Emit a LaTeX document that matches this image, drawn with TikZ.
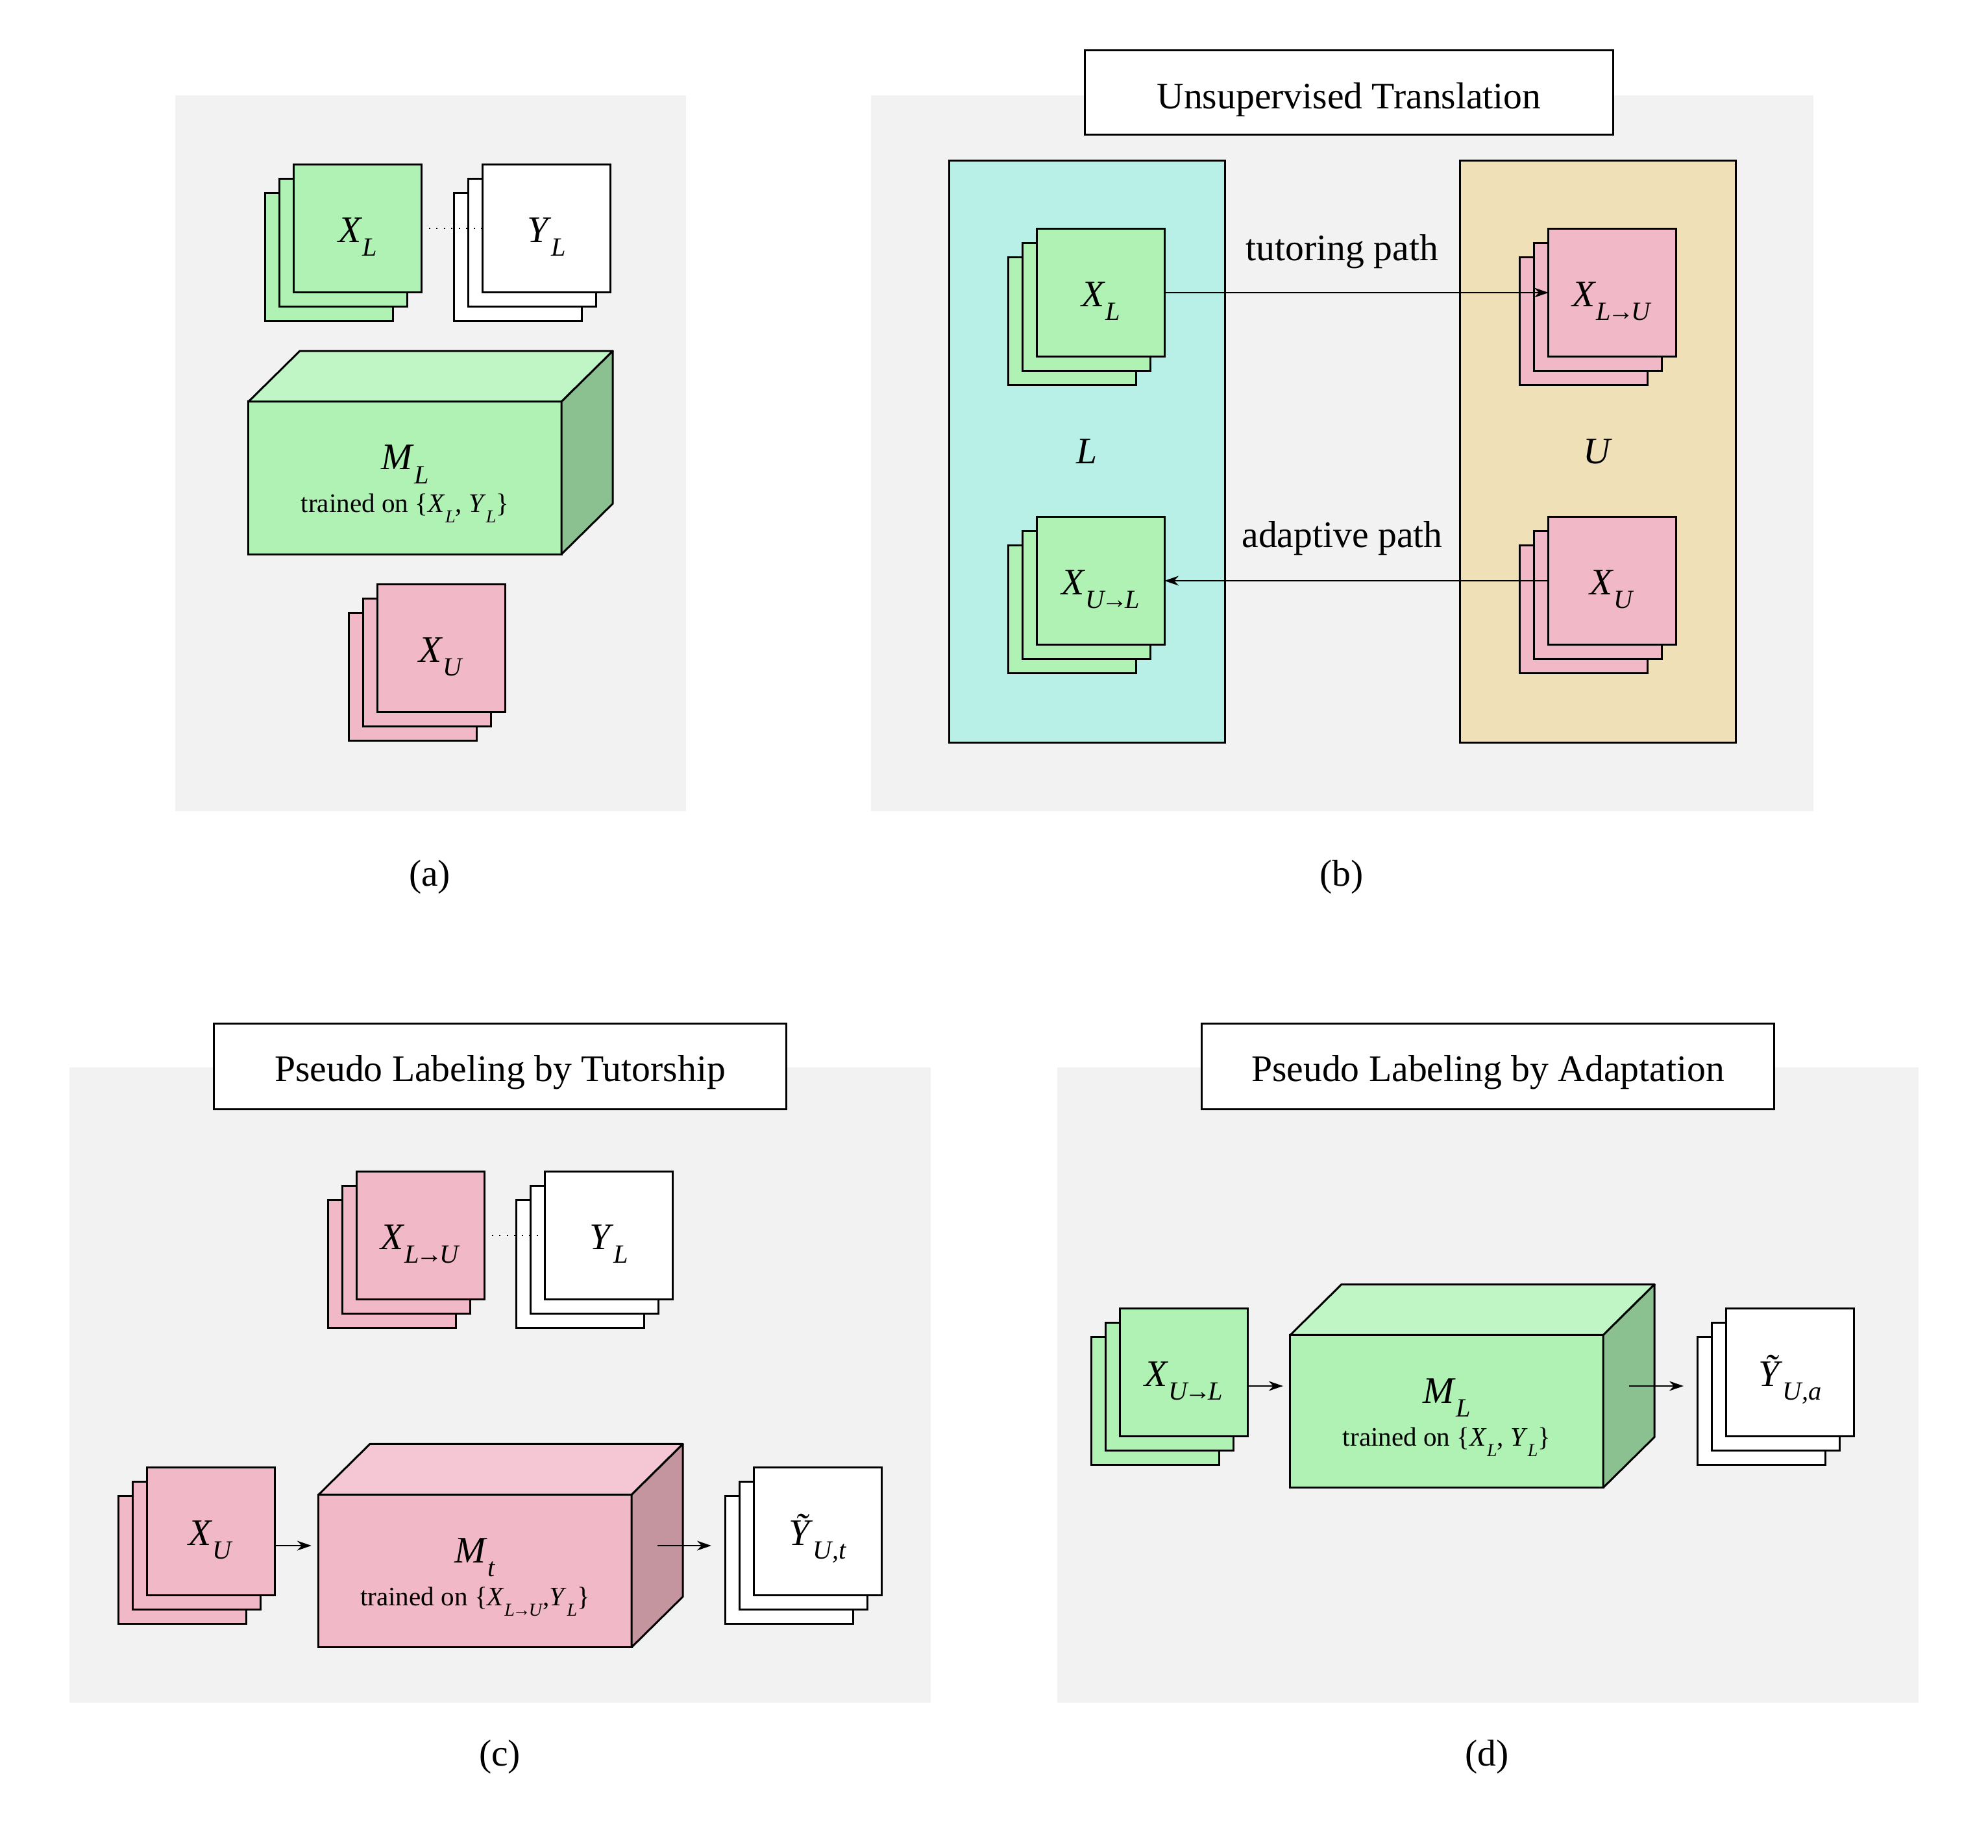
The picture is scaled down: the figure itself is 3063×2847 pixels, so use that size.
\documentclass[tikz,border=0pt]{standalone}
\usepackage{fontspec}
\setmainfont{Liberation Serif}
\usetikzlibrary{arrows.meta,calc}
\definecolor{bggray}{HTML}{F2F2F2}
\definecolor{cgreen}{HTML}{AFF2B4}
\definecolor{cgreentop}{HTML}{C0F5C5}
\definecolor{cgreenside}{HTML}{8BC190}
\definecolor{cpink}{HTML}{F1B8C8}
\definecolor{cpinktop}{HTML}{F5C6D3}
\definecolor{cpinkside}{HTML}{C4949F}
\definecolor{ccyan}{HTML}{B8F0E8}
\definecolor{ctan}{HTML}{F0E0B8}
\newcommand\bigsub[2]{\textit{#1}\raisebox{-0.38em}{\fontsize{11.5}{13}\selectfont\textit{#2}}}
\newcommand\smallsub[2]{\textit{#1}\raisebox{-0.4em}{\fontsize{8}{9}\selectfont\textit{#2}}}
\newcommand\toarr{\kern-0.12em\textup{→}\kern-0.1em}
\tikzset{
 card/.style={draw=black, line width=0.03cm, minimum width=1.96cm, minimum height=1.96cm, inner sep=0pt, outer sep=0pt, text height=0.5cm, text depth=0.08cm, font=\fontsize{16.4}{19}\selectfont},
 cubefront/.style={draw, line width=0.03cm, minimum width=4.82cm, minimum height=2.35cm, inner sep=0pt, outer sep=0pt},
 face/.style={draw, line width=0.03cm, line join=round},
 titlebox/.style={draw, line width=0.03cm, fill=white, inner sep=0pt, outer sep=0pt, text height=0.6cm, font=\fontsize{16.4}{19}\selectfont},
 setbox/.style={draw, line width=0.03cm, minimum width=4.24cm, minimum height=8.96cm, inner sep=0pt, outer sep=0pt, font=\fontsize{16.4}{19}\selectfont},
 arr/.style={-{Stealth[length=0.22cm,width=0.15cm,inset=0.07cm]}, line width=0.02cm},
 dotline/.style={line width=0.02cm, dash pattern=on 0.02cm off 0.095cm},
 bigtext/.style={font=\fontsize{16.4}{19}\selectfont, inner sep=0pt},
 smalltext/.style={font=\fontsize{11.7}{14}\selectfont, inner sep=0pt},
}
\newcommand\cardstack[5]{%
 \node[card,fill=#4] (#1b) at ({#2-44},{#3+44}) {};
 \node[card,fill=#4] (#1m) at ({#2-22},{#3+22}) {};
 \node[card,fill=#4] (#1) at (#2,#3) {#5};}
\newcommand\modelbox[6]{%
 \node[cubefront,fill=#4] (#1) at (#2,#3) {};
 \filldraw[face,fill=#5] (#1.north west) -- ($(#1.north west)+(79,-78)$) -- ($(#1.north east)+(79,-78)$) -- (#1.north east) -- cycle;
 \filldraw[face,fill=#6] (#1.north east) -- ($(#1.north east)+(79,-78)$) -- ($(#1.south east)+(79,-78)$) -- (#1.south east) -- cycle;
 \coordinate (#1mid) at ($(#1.center)+(0,-39)$);
 \coordinate (#1side) at ($(#1.east)+(39.5,-39)$);}
\begin{document}
\begin{tikzpicture}[x=0.01cm,y=-0.01cm]
\fill[white] (0,0) rectangle (3063,2847);
\useasboundingbox (0,0) rectangle (3063,2847);
% backgrounds
\fill[bggray] (270,147) rectangle (1057,1250);
\fill[bggray] (1342,147) rectangle (2794,1250);
\fill[bggray] (107,1645) rectangle (1434,2624);
\fill[bggray] (1629,1645) rectangle (2956,2624);
% ---------- (a)
\cardstack{axl}{551}{352}{cgreen}{\bigsub{X}{L}}
\cardstack{ayl}{842}{352}{white}{\bigsub{Y}{L}}
\draw[dotline] (axl.east) -- (ayl.west);
\modelbox{aml}{624}{736.5}{cgreen}{cgreentop}{cgreenside}
\node[bigtext, anchor=base] (amlt) at ($(aml.center)+(0,-13)$) {\bigsub{M}{L}};
\node[smalltext, anchor=base] (amls) at ($(aml.center)+(0,53)$) {trained on \{\smallsub{X}{L}, \smallsub{Y}{L}\}};
\cardstack{axu}{680}{999}{cpink}{\bigsub{X}{U}}
\node[bigtext] (la) at (662,1352) {(a)};
% ---------- (b)
\node[titlebox, minimum width=8.13cm, minimum height=1.29cm, text depth=0.11cm] (tb) at (2078.5,142.5) {Unsupervised Translation};
\node[setbox, fill=ccyan] (bL) at (1675,696) {\textit{L}};
\node[setbox, fill=ctan] (bU) at (2462,696) {\textit{U}};
\cardstack{bxl}{1696}{451}{cgreen}{\bigsub{X}{L}}
\cardstack{bxlu}{2484}{451}{cpink}{\bigsub{X}{L\toarr U}}
\cardstack{bxul}{1696}{895}{cgreen}{\bigsub{X}{U\toarr L}}
\cardstack{bxu}{2484}{895}{cpink}{\bigsub{X}{U}}
\draw[arr] (bxl.east) -- (bxlu.west);
\draw[arr] (bxu.west) -- (bxul.east);
\node[bigtext] (tpath) at (2068,388) {tutoring path};
\node[bigtext] (apath) at (2068,830) {adaptive path};
\node[bigtext] (lb) at (2067,1352) {(b)};
% ---------- (c)
\node[titlebox, minimum width=8.81cm, minimum height=1.31cm, text depth=0.15cm] (tc) at (770.5,1643.5) {Pseudo Labeling by Tutorship};
\cardstack{cxlu}{648}{1904}{cpink}{\bigsub{X}{L\toarr U}}
\cardstack{cyl}{938}{1904}{white}{\bigsub{Y}{L}}
\draw[dotline] (cxlu.east) -- (cyl.west);
\cardstack{cxu}{325}{2360}{cpink}{\bigsub{X}{U}}
\modelbox{cmt}{732}{2421}{cpink}{cpinktop}{cpinkside}
\node[bigtext, anchor=base] (cmtt) at ($(cmt.center)+(0,-13)$) {\bigsub{M}{t}};
\node[smalltext, anchor=base] (cmts) at ($(cmt.center)+(0,53)$) {trained on \{\smallsub{X}{L\toarr U},\smallsub{Y}{L}\}};
\cardstack{cyt}{1260}{2360}{white}{\bigsub{Ỹ}{U,t}}
\draw[arr] (cxu.east |- cmtmid) -- ($(cmt.west |- cmtmid)+(-11,0)$);
\draw[arr] (cmtside) -- ($(cytb.west |- cmtside)+(-22,0)$);
\node[bigtext] (lc) at (770,2708) {(c)};
% ---------- (d)
\node[titlebox, minimum width=8.81cm, minimum height=1.31cm, text depth=0.15cm] (td) at (2292.5,1643.5) {Pseudo Labeling by Adaptation};
\cardstack{dxul}{1824}{2115}{cgreen}{\bigsub{X}{U\toarr L}}
\modelbox{dml}{2229}{2175}{cgreen}{cgreentop}{cgreenside}
\node[bigtext, anchor=base] (dmlt) at ($(dml.center)+(0,-13)$) {\bigsub{M}{L}};
\node[smalltext, anchor=base] (dmls) at ($(dml.center)+(0,53)$) {trained on \{\smallsub{X}{L}, \smallsub{Y}{L}\}};
\cardstack{dya}{2758}{2115}{white}{\bigsub{Ỹ}{U,a}}
\draw[arr] (dxul.east |- dmlmid) -- ($(dml.west |- dmlmid)+(-11,0)$);
\draw[arr] (dmlside) -- ($(dyab.west |- dmlside)+(-22,0)$);
\node[bigtext] (ld) at (2291,2708) {(d)};
\end{tikzpicture}
\end{document}
